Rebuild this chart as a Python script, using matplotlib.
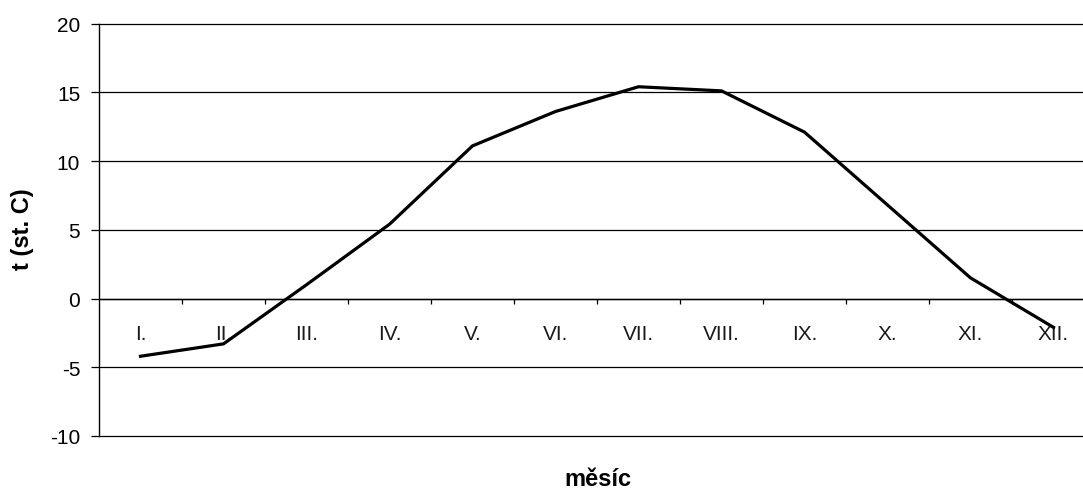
import matplotlib.pyplot as plt
import numpy as np

plt.rcParams['font.family'] = ['Liberation Sans', 'DejaVu Sans']
plt.rcParams['axes.unicode_minus'] = False

# mean monthly temperature
mesice = ['I.', 'II.', 'III.', 'IV.', 'V.', 'VI.', 'VII.', 'VIII.', 'IX.', 'X.', 'XI.', 'XII.']
teplota = [-4.2, -3.3, 1.0, 5.4, 11.1, 13.6, 15.4, 15.1, 12.1, 6.8, 1.5, -2.1]

W, H = 1083, 489
fig = plt.figure(figsize=(W/100, H/100), dpi=100)
# plot area runs a bit past the right edge of the figure
ax = fig.add_axes([99/W, 1-437/H, 996/W, 412.5/H])

x = np.arange(len(mesice))
ax.plot(x, teplota, color='black', linewidth=2.3, zorder=3)

ax.set_xlim(-0.5, len(mesice)-0.5)
ax.set_ylim(-10, 20)
ax.set_yticks(range(-10, 21, 5))
ax.yaxis.grid(True, color='black', linewidth=0.9)
for gl in ax.get_ygridlines():
    gl.set_clip_on(False)
ax.set_axisbelow(True)

for s in ['top', 'right']:
    ax.spines[s].set_visible(False)
ax.spines['left'].set_linewidth(1.0)
ax.spines['bottom'].set_position(('data', 0))
ax.spines['bottom'].set_linewidth(1.0)

# ticks between the months, labels in the middle
ax.set_xticks(np.arange(0.5, len(mesice)-0.5, 1))
ax.set_xticklabels([])
ax.set_xticks(x, minor=True)
ax.set_xticklabels(mesice, minor=True, fontsize=15, color='#1a1a1a')
ax.tick_params(axis='x', which='major', direction='out', length=3.8, width=0.9)
ax.tick_params(axis='x', which='minor', length=0, pad=18)
ax.tick_params(axis='y', direction='out', length=5.5, width=0.9, pad=8, labelsize=15)

fig.text(22.5/W, 1-229/H, 't (st. C)', rotation=90, ha='center', va='center',
         fontsize=17, fontweight='bold')
fig.text(598/W, 1-486/H, 'měsíc', ha='center', va='baseline', fontsize=17, fontweight='bold')

fig.savefig('out.png', dpi=100)
